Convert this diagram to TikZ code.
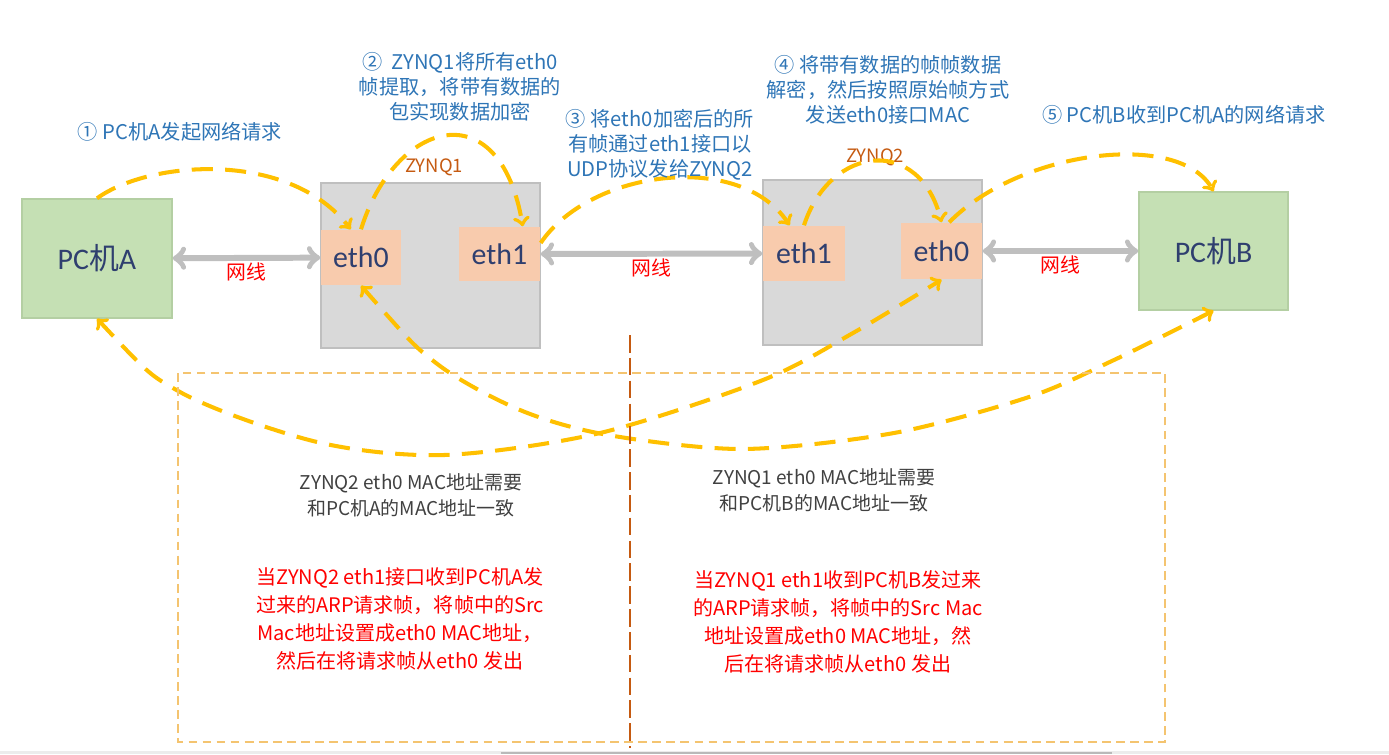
\documentclass[tikz,border=0pt]{standalone}
\usepackage[svgnames, dvipsnames, usenames]{xcolor}
\usepackage{fontspec}
\setmainfont{Noto Sans CJK SC}
\newfontfamily\latfont{Carlito}
\newfontfamily\cjkfont{Noto Sans CJK SC}
\usepackage{tikz}
\usetikzlibrary{arrows}
\definecolor{pcgreen}{HTML}{C5E0B4}
\definecolor{pcedge}{HTML}{B4CFA3}
\definecolor{zynqgray}{HTML}{D9D9D9}
\definecolor{zynqedge}{HTML}{BFBFBF}
\definecolor{ethpeach}{HTML}{F8CBAD}
\definecolor{boxtext}{HTML}{2F3F6F}
\definecolor{flowyellow}{HTML}{FFC000}
\definecolor{linkgray}{HTML}{BFBFBF}
\definecolor{stageblue}{HTML}{2E75B6}
\definecolor{zynqbrown}{HTML}{C55A11}
\definecolor{notegray}{HTML}{404040}
\definecolor{noteorange}{HTML}{F4C470}

\begin{document}
\begin{tikzpicture}[x=0.02cm, y=-0.02cm, thick,
  pcbox/.style={draw=pcedge, fill=pcgreen, minimum width=3cm, minimum height=2.38cm, inner sep=0pt, text=boxtext, font=\latfont\fontsize{17}{20}\selectfont},
  zynqbox/.style={draw=zynqedge, fill=zynqgray, minimum width=4.38cm, minimum height=3.3cm, inner sep=0pt},
  ethbox/.style={fill=ethpeach, minimum width=1.62cm, minimum height=1.1cm, inner sep=0pt, text=boxtext, font=\latfont\fontsize{17}{20}\selectfont},
  link/.style={draw=linkgray, line width=3.4pt, <->},
  flow/.style={draw=flowyellow, line width=2.3pt, dash pattern=on 12pt off 7pt, ->},
  wire/.style={text=red, font=\fontsize{11.3}{13}\selectfont, inner sep=1pt},
  stage/.style={text=stageblue, font=\fontsize{11.5}{14.2}\selectfont, align=center, inner sep=0pt},
  zlabel/.style={text=zynqbrown, font=\fontsize{10.5}{12}\selectfont, inner sep=0pt},
  graynote/.style={text=notegray, font=\fontsize{10.8}{14.7}\selectfont, align=center, inner sep=0pt},
  rednote/.style={text=red, font=\fontsize{11.4}{15.9}\selectfont, align=center, inner sep=0pt}]
\useasboundingbox (0,0) rectangle (1389,754);
%%%%% Boxes %%%%%
\node[pcbox] (pcA) at (97,258.5) {PC{\cjkfont 机}A};
\node[zynqbox] (z1) at (430.5,265.5) {};
\node[ethbox, minimum width=1.6cm] (z1e0) at (361,257.5) {eth0};
\node[ethbox, minimum height=1.08cm] (z1e1) at (499.5,254) {eth1};
\node[zynqbox] (z2) at (872.5,262.5) {};
\node[ethbox, minimum width=1.64cm] (z2e1) at (804,253.5) {eth1};
\node[ethbox, minimum height=1.12cm] (z2e0) at (941.5,251) {eth0};
\node[pcbox, minimum width=2.98cm, minimum height=2.36cm] (pcB) at (1213.5,251) {PC{\cjkfont 机}B};
\node[zlabel] (z1name) at (434,167) {ZYNQ1};
\node[zlabel] (z2name) at (875,157) {ZYNQ2};
%%%%% Cables %%%%%
\draw[link] (pcA) -- node[wire, midway, below] {网线} (z1e0);
\draw[link] (z1e1) -- node[wire, midway, below] {网线} (z2e1);
\draw[link] (z2e0) -- node[wire, midway, below] {网线} (pcB);
%%%%% Flow %%%%%
\draw[flow] (pcA.north) .. controls (150,160) and (290,150) .. (z1e0.110);
\draw[flow] (z1e0.north) .. controls (395,120) and (500,90) .. (z1e1.50);
\draw[flow] (z1e1.15) .. controls (590,170) and (740,150) .. (z2e1.117);
\draw[flow] (z2e1.north) .. controls (830,145) and (920,135) .. (z2e0.north);
\draw[flow] (z2e0.75) .. controls (1020,150) and (1180,130) .. (pcB.north);
\draw[flow, <->] plot[smooth] coordinates {(pcA.south) (180,392) (317,442) (444,455) (600,433) (763,380) (853,333) (z2e0.south)};
\draw[flow, <->] plot[smooth] coordinates {(z1e0.south) (436,363) (520,410) (608,435) (743,449) (894,433) (1029,397) (1114,360) (pcB.south)};
%%%%% Steps %%%%%
\node[stage] (s1) at (180,132) {① PC机A发起网络请求};
\node[stage] (s2) at (460,87) {②\ \ ZYNQ1将所有eth0\\帧提取，将带有数据的\\包实现数据加密};
\node[stage] (s3) at (660,145) {③ 将eth0加密后的所\\有帧通过eth1接口以\\UDP协议发给ZYNQ2};
\node[stage] (s4) at (888,90) {④ 将带有数据的帧帧数据\\解密，然后按照原始帧方式\\发送eth0接口MAC};
\node[stage] (s5) at (1184,115) {⑤ PC机B收到PC机A的网络请求};
%%%%% Notes %%%%%
\draw[draw=noteorange, line width=0.8pt, dash pattern=on 5pt off 3pt] (178,373) rectangle (1165,742);
\draw[draw=zynqbrown, line width=0.8pt, dash pattern=on 10pt off 3pt] (630,335) -- (630,748);
\node[graynote] (g1) at (411,495) {ZYNQ2 eth0 MAC地址需要\\和PC机A的MAC地址一致};
\node[graynote] (g2) at (824,490) {ZYNQ1 eth0 MAC地址需要\\和PC机B的MAC地址一致};
\node[rednote] (r1) at (400,619) {当ZYNQ2 eth1接口收到PC机A发\\过来的ARP请求帧，将帧中的Src\\Mac地址设置成eth0 MAC地址，\\然后在将请求帧从eth0 发出};
\node[rednote] (r2) at (838,622) {当ZYNQ1 eth1收到PC机B发过来\\的ARP请求帧，将帧中的Src Mac\\地址设置成eth0 MAC地址，然\\后在将请求帧从eth0 发出};
\fill[gray!15] (0,751) rectangle (1389,754);
\fill[gray!55] (501,752) rectangle (1112,754);
\end{tikzpicture}
\end{document}
